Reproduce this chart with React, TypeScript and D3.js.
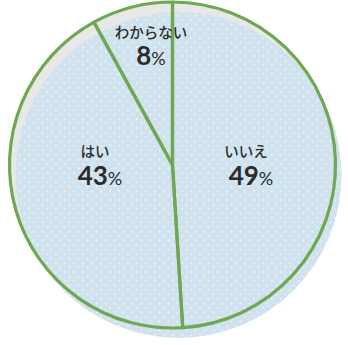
import React from "react";
import * as d3 from "d3";

const categories = ["いいえ", "はい", "わからない"];
const values = [49, 43, 8];
const labelPos = [
  { x: 251, y: 0 },
  { x: 100, y: 0 },
  { x: 151, y: 0 },
];

const W = 348;
const H = 345;
const cx = 172.5;
const cy = 165;
const R = 163;

export default function App() {
  const pie = d3.pie<number>().sort(null).value((d) => d)(values);
  const arc = d3.arc<d3.PieArcDatum<number>>().innerRadius(0).outerRadius(R);
  const labelY = [157, 157, 38];
  const numY = [185, 185, 65];
  return (
    <svg
      width={W}
      height={H}
      style={{ position: "absolute", left: 0, top: 0, background: "#fff" }}
    >
      <defs>
        <pattern id="dots" width="9" height="9" patternUnits="userSpaceOnUse">
          <rect width="9" height="9" fill="#cfe2ed" />
          <circle cx="2" cy="2" r="0.9" fill="#f4f9fc" opacity="0.8" />
          <circle cx="6.5" cy="6.5" r="0.9" fill="#f4f9fc" opacity="0.8" />
        </pattern>
      </defs>
      <circle cx={cx} cy={cy} r={R} fill="#e8e8e7" />
      <circle cx={cx + 6} cy={cy + 10} r={R} fill="url(#dots)" />
      <g transform={`translate(${cx},${cy})`}>
        {pie.map((p, i) => (
          <path
            key={i}
            d={arc(p) || ""}
            fill="none"
            stroke="#6fa753"
            strokeWidth={3.2}
            strokeLinejoin="round"
          />
        ))}
      </g>
      {pie.map((p, i) => (
        <g key={"t" + i} fill="#2b2b2b">
          <text
            x={labelPos[i].x - (i === 1 ? 5 : i === 0 ? 5 : 0)}
            y={labelY[i]}
            textAnchor="middle"
            fontFamily="'Noto Sans CJK JP'"
            fontSize={14.5}
            fontWeight={500}
          >
            {categories[i]}
          </text>
          <text
            x={labelPos[i].x}
            y={numY[i]}
            textAnchor="middle"
            fontFamily="Lato"
          >
            <tspan fontSize={26} fontWeight={700}>
              {values[i]}
            </tspan>
            <tspan fontSize={18} fontWeight={400}>
              %
            </tspan>
          </text>
        </g>
      ))}
    </svg>
  );
}
